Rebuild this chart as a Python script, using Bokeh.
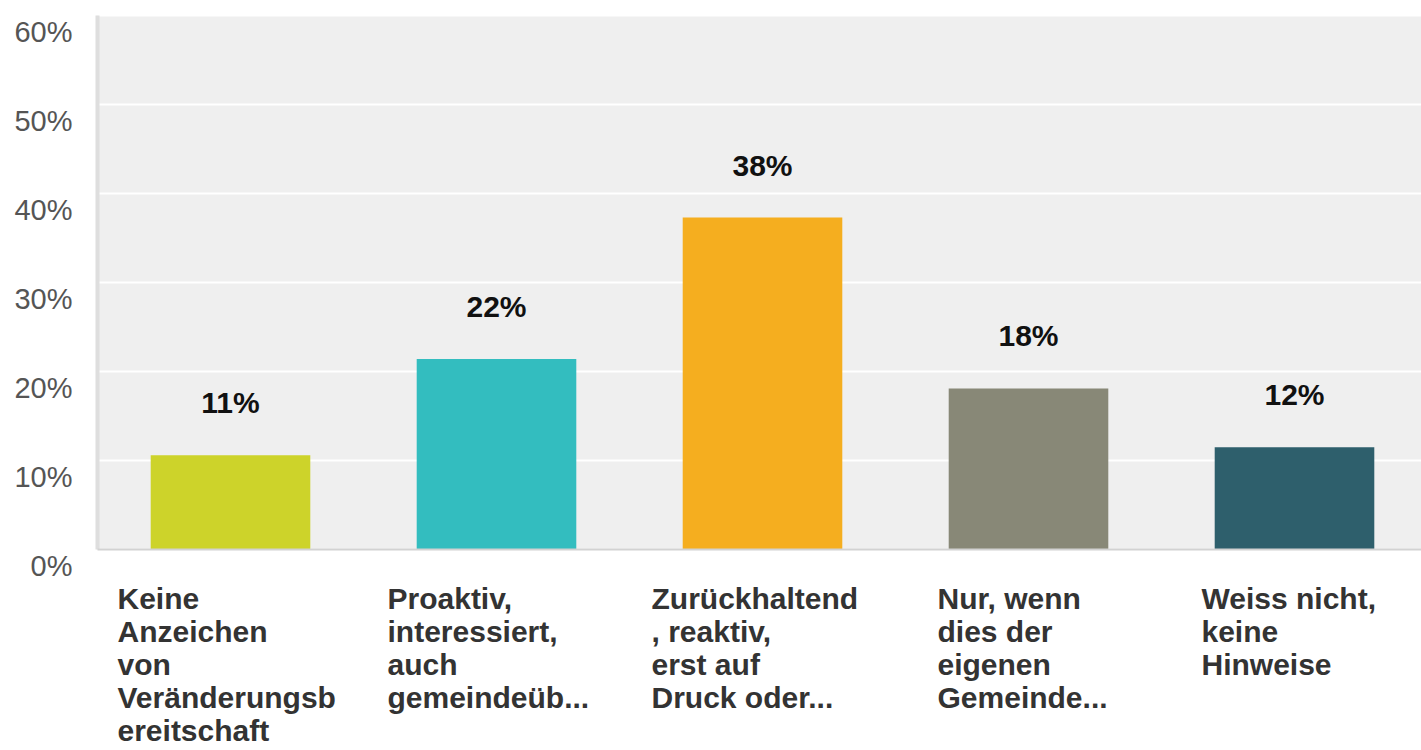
from bokeh.plotting import figure
from bokeh.models import ColumnDataSource, LabelSet, Range1d
from bokeh.core.properties import value
from bokeh.embed import file_html
from bokeh.resources import INLINE

# ---- data ----
categories = [
    "Keine\nAnzeichen\nvon\nVeränderungsb\nereitschaft",
    "Proaktiv,\ninteressiert,\nauch\ngemeindeüb...",
    "Zurückhaltend\n, reaktiv,\nerst auf\nDruck oder...",
    "Nur, wenn\ndies der\neigenen\nGemeinde...",
    "Weiss nicht,\nkeine\nHinweise",
]
values = [10.6, 21.4, 37.3, 18.1, 11.5]
value_labels = ["11%", "22%", "38%", "18%", "12%"]
y_ticks = [0, 10, 20, 30, 40, 50, 60]
y_tick_labels = ["0%", "10%", "20%", "30%", "40%", "50%", "60%"]

# ---- layout / styling ----
W, H = 1421, 750
PLOT_L, PLOT_T, PLOT_B = 97, 15, 549       # plot area edges in pixels
PX_PER_CAT = 266
colors = ["#cdd32a", "#33bdbf", "#f5ae1f", "#888877", "#2e5f6c"]
label_shift = [-113, -109, -111, -91, -93]
FONT = value("Liberation Sans")

y_max_data = y_ticks[-1]
px_per_unit = (PLOT_B - PLOT_T) / y_max_data
x0 = -0.5                                   # left edge of plot area in data
x_lo = x0 - PLOT_L / PX_PER_CAT
x_hi = x0 + (W - PLOT_L) / PX_PER_CAT
y_lo = -(H - PLOT_B) / px_per_unit
y_hi = y_max_data + PLOT_T / px_per_unit

idx = list(range(len(categories)))
src = ColumnDataSource(dict(x=idx, top=values, color=colors, vlab=value_labels,
                            cat=categories, base=[0] * len(idx), shift=label_shift))
tick_src = ColumnDataSource(dict(y=y_ticks, lab=y_tick_labels, x=[x0] * len(y_ticks),
                                 x1=[x_hi] * len(y_ticks)))

p = figure(width=W, height=H, min_border=0,
           x_range=Range1d(x_lo, x_hi), y_range=Range1d(y_lo, y_hi),
           output_backend="svg", toolbar_location=None, tools="")
p.axis.visible = False
p.grid.visible = False
p.outline_line_color = None
p.background_fill_color = "white"
p.border_fill_color = "white"

# plot area background
p.quad(left=x0, right=x_hi, bottom=0, top=y_max_data, fill_color="#efefef", line_color=None)
# grid lines
p.segment(x0="x", y0="y", x1="x1", y1="y", source=tick_src, line_color="white", line_width=2)
# bars
p.vbar(x="x", top="top", width=0.6, color="color", line_color=None, source=src)
# axis lines
p.segment(x0=[x0], y0=[0], x1=[x0], y1=[y_max_data], line_color="#dedede", line_width=4)
p.segment(x0=[x0], y0=[0], x1=[x_hi], y1=[0], line_color="#d2d2d2", line_width=2)

tl = LabelSet(x="x", y="y", text="lab", source=tick_src, x_offset=-25, y_offset=0,
              text_align="right", text_baseline="top",
              text_font=FONT, text_font_size="29px", text_color="#555555")
p.add_layout(tl)

vl = LabelSet(x="x", y="top", text="vlab", source=src, y_offset=42,
              text_align="center", text_baseline="alphabetic",
              text_font=FONT, text_font_style="bold", text_font_size="30px",
              text_color="#111111")
p.add_layout(vl)

cl = LabelSet(x="x", y="base", text="cat", source=src, x_offset="shift", y_offset=-32,
              text_align="left", text_baseline="top", text_line_height=1.0,
              text_font=FONT, text_font_style="bold", text_font_size="30px",
              text_color="#333333")
p.add_layout(cl)

open("out.html", "w").write(file_html(p, INLINE))
